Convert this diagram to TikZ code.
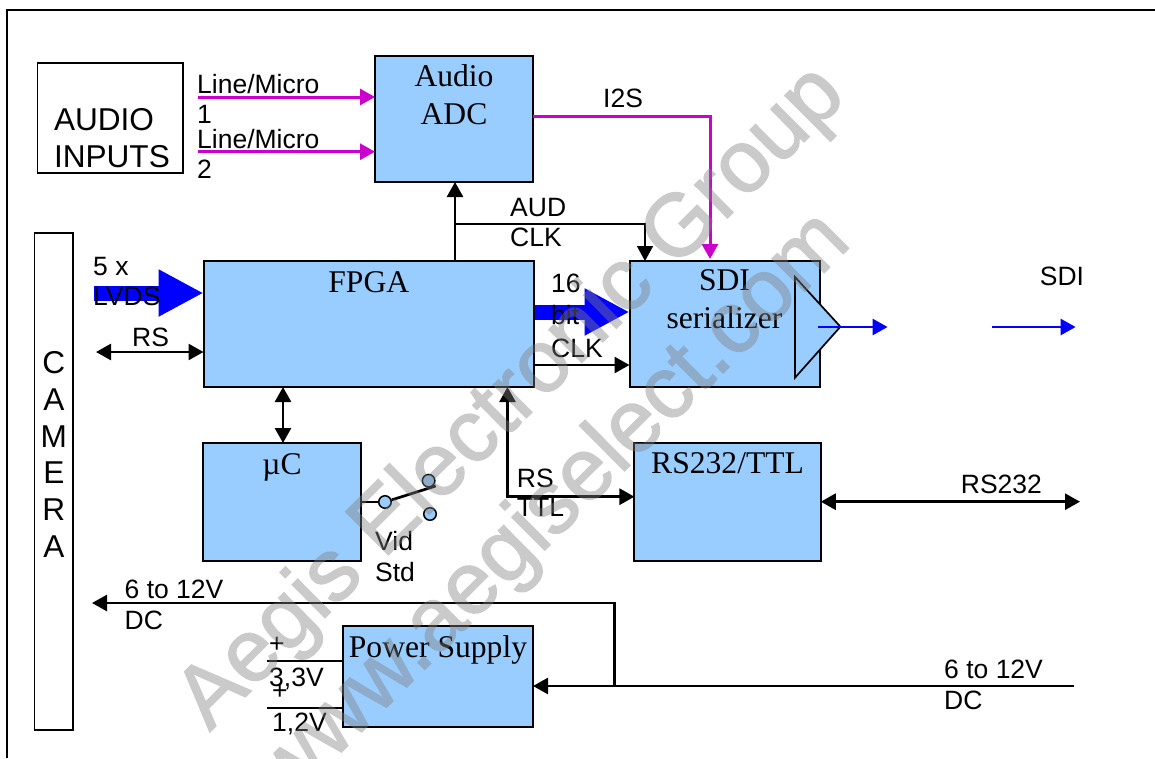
\documentclass[tikz,border=0pt]{standalone}
\usepackage{fontspec}
\setmainfont{Liberation Serif}
\setsansfont{Liberation Sans}
\newfontfamily\wmfont[FakeBold=1.6]{Liberation Sans}
\usetikzlibrary{arrows.meta}
\definecolor{boxblue}{HTML}{99CCFF}
\definecolor{linemagenta}{HTML}{CC00CC}
\definecolor{busblue}{HTML}{0000FF}
\tikzset{
    block/.style={draw, fill=boxblue, line width=2pt, inner sep=0pt, outer sep=0pt, align=center,
        font=\fontsize{31.6}{38}\selectfont},
    plainbox/.style={draw, line width=1.5pt, inner sep=0pt, font=\sffamily\fontsize{31.6}{37}\selectfont},
    lab/.style={anchor=base west, inner sep=0pt, font=\sffamily\fontsize{26.5}{30}\selectfont},
    contact/.style={draw, fill=boxblue, circle, line width=1.5pt, inner sep=0pt, minimum size=12.5pt},
    wmark/.style={text=gray, inner sep=0pt, anchor=base, rotate=44.8, font=\wmfont\fontsize{88}{88}\selectfont},
    wire/.style={line width=2.7pt, -{Triangle[length=15pt,width=16pt]}},
    both/.style={line width=2.7pt, {Triangle[length=15pt,width=16pt]}-{Triangle[length=15pt,width=16pt]}},
    thinwire/.style={line width=1.6pt},
    audio/.style={wire, line width=3pt, color=linemagenta},
    serial/.style={wire, color=busblue},
    bus/.style={color=busblue, line width=15pt, -{Triangle[length=45pt,width=44pt]}}
}
\begin{document}
\begin{tikzpicture}[x=1pt, y=-1pt]
            \useasboundingbox (0,0) rectangle (1155,758);

            %Nodes
            \node at (110.25,118) (inputs) [plainbox, minimum width=145.5pt, text width=112.5pt, align=left, text height=67.5pt, text depth=42.5pt, execute at begin node={\fontsize{31.6}{37}\selectfont}] {AUDIO\\INPUTS};
            \node at (53.8,481.5) (camera) [plainbox, minimum width=38.4pt, align=center, text height=324.5pt, text depth=172.5pt, execute at begin node={\fontsize{31.6}{36.8}\selectfont}] {C\\A\\M\\E\\R\\A};
            \node at (454,119) (adc) [block, minimum width=158pt, text height=68pt, text depth=58pt] {Audio\\ADC};
            \node at (368.75,324) (fpga) [block, minimum width=330.5pt, text height=31.4pt, text depth=94.6pt] {FPGA};
            \node at (724.5,324) (sdi) [block, minimum width=190pt, text height=67.7pt, text depth=58.3pt] {SDI\\serializer};
            \node at (727.6,502) (rsconv) [block, minimum width=186.3pt, text height=30.7pt, text depth=87.3pt] {RS232/TTL};
            \node at (282,502) (uc) [block, minimum width=158pt, text height=31.5pt, text depth=86.5pt] {µC};
            \node at (438,676.5) (psu) [block, minimum width=190pt, text height=31.4pt, text depth=69.6pt] {Power Supply};
            \node at (385,502) (swcom) [contact] {};
            \node at (428.6,480.7) (swup) [contact] {};
            \node at (430,514) (swdown) [contact] {};

            %Free ends
            \coordinate (framea) at (7,758);
            \coordinate (frameb) at (7,10);
            \coordinate (framec) at (1155,10);
            \coordinate (micone) at (198,97);
            \coordinate (mictwo) at (198,151.7);
            \coordinate (i2sout) at (533,116);
            \coordinate (i2sin) at (710,259);
            \coordinate (adctap) at (455,261);
            \coordinate (audtap) at (455,224);
            \coordinate (audin) at (645,261);
            \coordinate (lvdsin) at (94,293);
            \coordinate (rsin) at (96,352);
            \coordinate (busout) at (535,312);
            \coordinate (clkout) at (534,365);
            \coordinate (ucport) at (283,387);
            \coordinate (ttlport) at (507.5,387);
            \coordinate (ttlbend) at (507.5,496.7);
            \coordinate (rsend) at (1080,501.7);
            \coordinate (driverup) at (795,277);
            \coordinate (drivertip) at (840.4,326.7);
            \coordinate (driverlow) at (795,377.7);
            \coordinate (sdistart) at (818,327);
            \coordinate (sdistop) at (887.6,327);
            \coordinate (sdicont) at (992,327);
            \coordinate (sdiend) at (1075.6,327);
            \coordinate (camend) at (92,603);
            \coordinate (dctap) at (614.5,686);
            \coordinate (dcin) at (1074,686);
            \coordinate (railstart) at (267,661);
            \coordinate (corestart) at (267,707.7);
            \coordinate (leverend) at (435.7,486);

            %Lines
            \draw[line width=1.9pt] (framea) -- (frameb) -- (framec);
            \draw[audio] (micone) -- (micone -| adc.west);
            \draw[audio] (mictwo) -- (mictwo -| adc.west);
            \draw[audio] (i2sout) -| (i2sin);
            \draw[wire] (adctap) -- (adctap |- adc.south);
            \draw[thinwire, -{Triangle[length=15pt,width=16pt]}] (audtap) -| (audin);
            \draw[bus] (lvdsin) -- (lvdsin -| fpga.west);
            \draw[both] (rsin) -- (rsin -| fpga.west);
            \draw[bus] (busout) -- (busout -| sdi.west);
            \draw[wire] (clkout) -- (clkout -| sdi.west);
            \draw[both] (ucport) -- (ucport |- uc.north);
            \draw[both] (ttlport) |- (ttlbend -| rsconv.west);
            \draw[both] (rsconv.east |- rsend) -- (rsend);
            \draw[fill=boxblue, line width=1.7pt] (driverup) -- (drivertip) -- (driverlow) -- cycle;
            \draw[serial] (sdistart) -- (sdistop);
            \draw[serial] (sdicont) -- (sdiend);
            \draw[wire] (dctap) |- (camend);
            \draw[wire] (dcin) -- (dcin -| psu.east);
            \draw[thinwire] (railstart) -- (railstart -| psu.west);
            \draw[thinwire] (corestart) -- (corestart -| psu.west);
            \draw[line width=2.7pt] (uc.east |- swcom) -- (swcom);
            \draw[line width=2.7pt] (swcom) -- (leverend);

            %Labels
            \node at (197,93.4) (lineone) [lab] {Line/Micro};
            \node at (197,123.7) (numone) [lab] {1};
            \node at (197,148.4) (linetwo) [lab] {Line/Micro};
            \node at (197,178.4) (numtwo) [lab] {2};
            \node at (603,107) (i2s) [lab] {I2S};
            \node at (510,216) (aud) [lab] {AUD};
            \node at (510,246.7) (audclk) [lab] {CLK};
            \node at (93,275.7) (fivex) [lab] {5 x};
            \node at (93,305) (lvds) [lab] {LVDS};
            \node at (132,346.7) (rscam) [lab] {RS};
            \node at (551,292) (sixteen) [lab] {16};
            \node at (551,324) (bit) [lab] {bit};
            \node at (551,357) (clk) [lab] {CLK};
            \node at (1039.7,285.7) (sdiout) [lab] {SDI};
            \node at (960.7,493) (rsout) [lab] {RS232};
            \node at (516.7,487) (rsttl) [lab] {RS};
            \node at (516.7,516.7) (ttl) [lab] {TTL};
            \node at (375,550.7) (vid) [lab] {Vid};
            \node at (375,581.7) (std) [lab] {Std};
            \node at (124.5,598) (camvolt) [lab] {6 to 12V};
            \node at (124.5,629) (camdc) [lab] {DC};
            \node at (269,652.7) (plusa) [lab] {+};
            \node at (269,686) (rail) [lab] {3,3V};
            \node at (272,699) (plusb) [lab] {+};
            \node at (272,731.7) (core) [lab] {1,2V};
            \node at (944,678) (involt) [lab] {6 to 12V};
            \node at (944,709) (indc) [lab] {DC};

            %Watermark
            \begin{scope}[transparency group, opacity=0.42]
                \node at (529,415) (wmarkgroup) [wmark] {Aegis Electronic Group};
                \node at (570,525) (wmarksite) [wmark] {www.aegiselect.com};
            \end{scope}
        \end{tikzpicture}
\end{document}
